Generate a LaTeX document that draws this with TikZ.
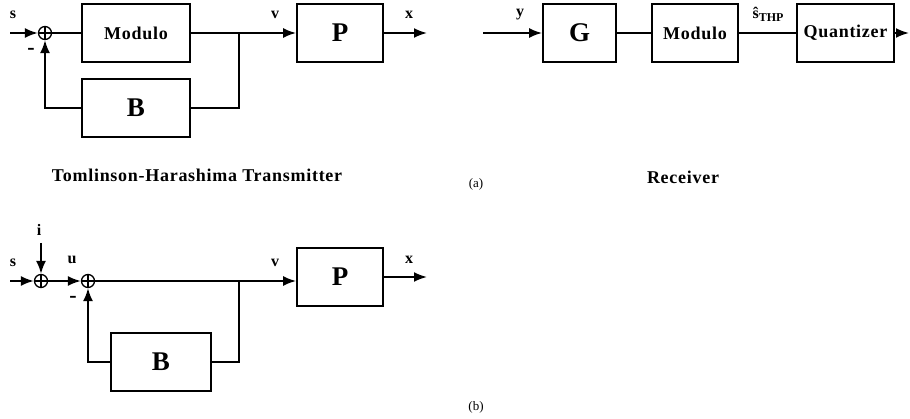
\documentclass[tikz,border=0pt]{standalone}
\usepackage{fontspec}
\setmainfont{Liberation Serif}
\usetikzlibrary{positioning, arrows.meta}

\begin{document}
\begin{tikzpicture}[
    x=1pt, y=-1pt,
    box/.style={draw, line width=1.8pt, minimum height=58pt, inner sep=0pt,
                font=\fontsize{18}{18}\selectfont\bfseries\addfontfeature{LetterSpace=4}},
    big/.style={box, font=\fontsize{27}{27}\selectfont\bfseries},
    sum/.style={draw, circle, line width=1.3pt, minimum size=13pt, inner sep=0pt,
                path picture={\draw[line width=1.3pt]
                  (path picture bounding box.north) -- (path picture bounding box.south)
                  (path picture bounding box.west) -- (path picture bounding box.east);}},
    wire/.style={line width=1.9pt},
    arr/.style={wire, -{Latex[length=13pt, width=10pt]}},
    lbl/.style={font=\fontsize{16}{16}\selectfont\bfseries, inner sep=0pt},
    minus/.style={font=\fontsize{22}{22}\selectfont\bfseries, inner sep=0pt},
    title/.style={font=\fontsize{18}{18}\selectfont\bfseries\addfontfeature{LetterSpace=4}, inner sep=0pt},
    tag/.style={font=\fontsize{13}{13}\selectfont, inner sep=0pt}
]
\useasboundingbox (0,0) rectangle (910,419);

% (a) transmitter
\coordinate (inA) at (10,33);
\node[sum] (sumA) at (45,33) {};
\node[box, minimum width=108pt] (modA) at (136,33) {Modulo};
\node[big, minimum width=108pt] (bA) at (136,108) {B};
\coordinate (jA) at (239,33);
\node[big, minimum width=86pt] (pA) at (340,33) {P};
\coordinate (outA) at (427,33);
\node[lbl] (sA) at (13,15) {s};
\node[lbl] (vA) at (275,15) {v};
\node[lbl] (xA) at (409,15) {x};
\node[minus] (mA) at (31,51) {-};
\node[title] (capA) at (197,175) {Tomlinson-Harashima Transmitter};

\draw[arr] (inA) -- (sumA);
\draw[wire] (sumA) -- (modA);
\draw[arr] (modA) -- (jA) -- (pA);
\draw[arr] (pA) -- (outA);
\draw[wire] (jA) |- (bA);
\draw[arr] (bA) -| (sumA);

% (a) receiver
\coordinate (inR) at (483,33);
\node[big, minimum width=73pt] (gR) at (579.5,33) {G};
\node[box, minimum width=86pt] (modR) at (695,33) {Modulo};
\node[box, minimum width=97pt] (qR) at (845.5,33) {Quantizer};
\coordinate (outR) at (909,33);
\node[lbl] (yR) at (520,15) {y};
\node[lbl] (sR) at (768,14) {\^{s}\raisebox{-3pt}{\fontsize{12}{12}\selectfont THP}};
\node[title] (capR) at (683,177) {Receiver};
\node[tag] (tagA) at (476,184) {(a)};

\draw[arr] (inR) -- (gR);
\draw[wire] (gR) -- (modR);
\draw[wire] (modR) -- (qR);
\draw[arr] (qR) -- (outR);

% (b)
\coordinate (inB) at (10,281);
\coordinate (iB) at (41,243);
\node[sum] (sumB) at (41,281) {};
\node[sum] (sumC) at (88,281) {};
\coordinate (jB) at (239,281);
\node[big, minimum width=86pt] (pB) at (340,277) {P};
\node[big, minimum width=100pt] (bB) at (161,362) {B};
\coordinate (outB) at (427,277);
\node[lbl] (sB) at (13,263) {s};
\node[lbl] (iL) at (39,230) {i};
\node[lbl] (uB) at (72,260) {u};
\node[lbl] (vB) at (275,263) {v};
\node[lbl] (xB) at (409,260) {x};
\node[minus] (mB) at (73,299) {-};
\node[tag] (tagB) at (476,407) {(b)};

\draw[arr] (inB) -- (sumB);
\draw[arr] (iB) -- (sumB);
\draw[arr] (sumB) -- (sumC);
\draw[arr] (sumC) -- (jB) -- (jB -| pB.west);
\draw[arr] (pB) -- (outB);
\draw[wire] (jB) |- (bB);
\draw[arr] (bB) -| (sumC);
\end{tikzpicture}
\end{document}
